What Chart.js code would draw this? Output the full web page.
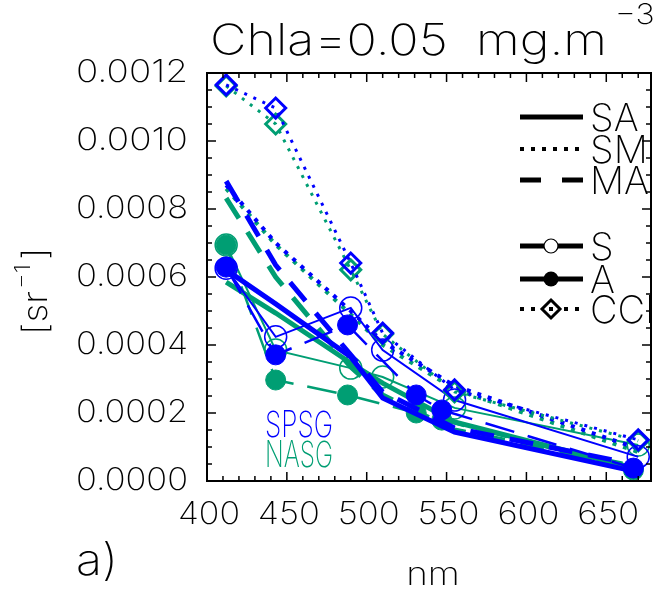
<!DOCTYPE html>
<html>
<head>
<meta charset="utf-8">
<script src="https://cdn.jsdelivr.net/npm/chart.js@4.4.1/dist/chart.umd.min.js"></script>
<style>
  html, body { margin: 0; padding: 0; background: #fff; }
  #wrap { width: 664px; height: 590px; }
</style>
</head>
<body>
<div id="wrap"><canvas id="rrsChart"></canvas></div>
<script>
// band centres (nm)
var bandsModel = [412, 443, 490, 510, 555, 670];
var bandsS     = [412, 443, 490, 510, 555, 670];
var bandsA     = [412, 443, 488, 531, 547, 667];
var bandsCCI   = [412, 443, 490, 510, 555, 670];

// SPSG (blue)
var spsgSA  = [0.000621, 0.000521, 0.000365, 0.000244, 0.000144, 0.000026];
var spsgSM  = [0.000870, 0.000700, 0.000500, 0.000410, 0.000280, 0.000095];
var spsgMA  = [0.000882, 0.000635, 0.000371, 0.000262, 0.000156, 0.000047];
var spsgS   = [0.000626, 0.000424, 0.000509, 0.000385, 0.000238, 0.000071];
var spsgA   = [0.000629, 0.000371, 0.000459, 0.000253, 0.000209, 0.000038];
var spsgCCI = [0.001165, 0.001097, 0.000641, 0.000435, 0.000268, 0.000121];

// NASG (green)
var nasgSA  = [0.000585, 0.000494, 0.000347, 0.000288, 0.000174, 0.000035];
var nasgSM  = [0.000860, 0.000695, 0.000490, 0.000400, 0.000270, 0.000085];
var nasgMA  = [0.000832, 0.000600, 0.000335, 0.000253, 0.000150, 0.000041];
var nasgS   = [0.000694, 0.000385, 0.000332, 0.000306, 0.000215, 0.000106];
var nasgA   = [0.000694, 0.000297, 0.000253, 0.000200, 0.000179, 0.000032];
var nasgCCI = [0.001162, 0.001050, 0.000621, 0.000432, 0.000262, 0.000118];

var yTicks = [0, 0.0002, 0.0004, 0.0006, 0.0008, 0.0010, 0.0012];
var xTicks = [400, 450, 500, 550, 600, 650];
var keyNames = ['SA', 'SM', 'MA', 'S', 'A', 'CCI'];

var BLUE = '#0000ff';
var GREEN = '#009e73';
var FONT = 'Inter, Lato, "DejaVu Sans", sans-serif';
var WEIGHT = '150';

function pts(xs, ys) {
    return xs.map(function (x, i) { return { x: x, y: ys[i] }; });
}

// line style per product
var styles = {
    SA:  { borderWidth: 5, borderDash: [], pointRadius: 0 },
    SM:  { borderWidth: 4, borderDash: [4, 7], pointRadius: 0 },
    MA:  { borderWidth: 5, borderDash: [24, 16], pointRadius: 0 },
    S:   { borderWidth: 2, borderDash: [], pointRadius: 11, pointStyle: 'circle', filled: false, pointBorderWidth: 1.5 },
    A:   { borderWidth: 2.5, borderDash: [30, 14], pointRadius: 10, pointStyle: 'circle', filled: true, pointBorderWidth: 1 },
    CCI: { borderWidth: 3, borderDash: [3, 7], pointRadius: 10, pointStyle: 'rectRot', filled: false, pointBorderWidth: 3 }
};

function makeSet(label, key, xs, ys, color) {
    var st = styles[key];
    return {
        label: label,
        data: pts(xs, ys),
        borderColor: color,
        backgroundColor: color,
        borderWidth: st.borderWidth,
        borderDash: st.borderDash,
        borderCapStyle: 'butt',
        tension: 0,
        pointRadius: st.pointRadius,
        pointStyle: st.pointStyle || 'circle',
        pointBorderColor: color,
        pointBackgroundColor: st.filled ? color : 'rgba(0,0,0,0)',
        pointBorderWidth: st.pointBorderWidth || 1
    };
}

var datasets = [
    makeSet('SPSG CCI', 'CCI', bandsCCI, spsgCCI, BLUE),
    makeSet('NASG CCI', 'CCI', bandsCCI, nasgCCI, GREEN),
    makeSet('SPSG A', 'A', bandsA, spsgA, BLUE),
    makeSet('SPSG S', 'S', bandsS, spsgS, BLUE),
    makeSet('SPSG SA', 'SA', bandsModel, spsgSA, BLUE),
    makeSet('SPSG MA', 'MA', bandsModel, spsgMA, BLUE),
    makeSet('SPSG SM', 'SM', bandsModel, spsgSM, BLUE),
    makeSet('NASG A', 'A', bandsA, nasgA, GREEN),
    makeSet('NASG S', 'S', bandsS, nasgS, GREEN),
    makeSet('NASG SA', 'SA', bandsModel, nasgSA, GREEN),
    makeSet('NASG MA', 'MA', bandsModel, nasgMA, GREEN),
    makeSet('NASG SM', 'SM', bandsModel, nasgSM, GREEN)
];

// text helper: optional stretch to a given width, returns drawn width
function drawText(ctx, s, x, y, size, o) {
    o = o || {};
    ctx.font = WEIGHT + ' ' + size + 'px ' + FONT;
    ctx.fillStyle = o.color || '#000';
    ctx.textAlign = 'left';
    ctx.textBaseline = o.baseline || 'alphabetic';
    var w = ctx.measureText(s).width;
    var sx = o.width ? o.width / w : (o.sx || 1);
    var dx = 0;
    if (o.align === 'center') dx = -w / 2;
    if (o.align === 'right') dx = -w;
    ctx.save();
    ctx.translate(x, y);
    ctx.scale(sx, 1);
    ctx.fillText(s, dx, 0);
    ctx.restore();
    return w * sx;
}

// box with inward ticks, tick labels, titles and the key
var decor = {
    id: 'decor',
    afterDraw: function (chart) {
        var ctx = chart.ctx, a = chart.chartArea;
        var xs = chart.scales.x, ys = chart.scales.y;
        ctx.save();
        ctx.strokeStyle = '#000';
        ctx.lineWidth = 2;
        ctx.strokeRect(a.left, a.top, a.right - a.left, a.bottom - a.top);

        ctx.lineWidth = 1.5;
        ctx.beginPath();
        for (var v = 400; v <= xs.max; v += 10) {
            var px = xs.getPixelForValue(v);
            var len = (v % 50 === 0) ? 9 : 5;
            ctx.moveTo(px, a.bottom); ctx.lineTo(px, a.bottom - len);
            ctx.moveTo(px, a.top); ctx.lineTo(px, a.top + len);
        }
        for (var k = 0; k <= 24; k++) {
            var py = ys.getPixelForValue(k * 0.00005);
            var l2 = (k % 4 === 0) ? 9 : 5;
            ctx.moveTo(a.left, py); ctx.lineTo(a.left + l2, py);
            ctx.moveTo(a.right, py); ctx.lineTo(a.right - l2, py);
        }
        ctx.stroke();

        // tick labels
        yTicks.forEach(function (t) {
            drawText(ctx, t.toFixed(4), 188, ys.getPixelForValue(t), 31, { align: 'right', baseline: 'middle', width: 112 });
        });
        xTicks.forEach(function (t) {
            drawText(ctx, String(t), xs.getPixelForValue(t) + 2, 515, 31, { align: 'center', baseline: 'middle', width: 62 });
        });

        // title
        var tw = drawText(ctx, 'Chla=0.05  mg.m', 210, 55, 43, { width: 397 });
        drawText(ctx, '\u22123', 210 + tw + 8, 24, 28, { sx: 1.15 });

        // axis titles
        drawText(ctx, 'nm', 433, 585, 32, { align: 'center', sx: 1.15 });
        drawText(ctx, 'a)', 76, 575, 44, { sx: 1.1 });
        ctx.save();
        ctx.translate(47, 335);
        ctx.rotate(-Math.PI / 2);
        var w1 = drawText(ctx, '[sr', 0, 0, 34, { sx: 1.1 });
        var w2 = drawText(ctx, '\u22121', w1 + 2, -17, 22, { sx: 1.1 });
        drawText(ctx, ']', w1 + w2 + 6, 0, 34, { sx: 1.1 });
        ctx.restore();

        // region labels
        drawText(ctx, 'SPSG', 265, 437, 36, { color: BLUE, width: 68 });
        drawText(ctx, 'NASG', 265, 467, 36, { color: GREEN, width: 68 });

        // key
        var keyX0 = 520, keyX1 = 583, keyMid = 551;
        ctx.strokeStyle = '#000';
        ctx.lineCap = 'butt';
        function keyLine(y, w, dash) {
            ctx.lineWidth = w;
            ctx.setLineDash(dash);
            ctx.beginPath(); ctx.moveTo(keyX0, y); ctx.lineTo(keyX1, y); ctx.stroke();
            ctx.setLineDash([]);
        }
        keyLine(117, 5, []);
        keyLine(149, 4, [4, 7]);
        keyLine(180, 5, [21, 21]);
        keyLine(246, 5, []);
        keyLine(279, 5, []);
        keyLine(309, 4, [4, 7]);
        // open circle
        ctx.fillStyle = '#fff';
        ctx.lineWidth = 1.2;
        ctx.beginPath(); ctx.arc(keyMid, 246, 7, 0, Math.PI * 2); ctx.fill(); ctx.stroke();
        // filled circle
        ctx.fillStyle = '#000';
        ctx.beginPath(); ctx.arc(keyMid, 279, 7.5, 0, Math.PI * 2); ctx.fill();
        // diamond
        ctx.fillStyle = '#fff';
        ctx.lineWidth = 3;
        ctx.beginPath();
        ctx.moveTo(keyMid, 300); ctx.lineTo(keyMid + 9, 309); ctx.lineTo(keyMid, 318); ctx.lineTo(keyMid - 9, 309); ctx.closePath();
        ctx.fill(); ctx.stroke();
        ctx.fillStyle = '#000';
        ctx.fillRect(keyMid - 2, 307, 4, 4);

        var keyY = [131, 163, 194, 260, 293, 323];
        keyNames.forEach(function (n, i) { drawText(ctx, n, 590, keyY[i], 38, { sx: 1.0 }); });
        ctx.restore();
    }
};

new Chart(document.getElementById('rrsChart').getContext('2d'), {
    type: 'line',
    data: { datasets: datasets },
    options: {
        responsive: true,
        maintainAspectRatio: false,
        animation: false,
        layout: { padding: { top: 73, right: 5, left: 0, bottom: 0 } },
        plugins: { legend: { display: false }, tooltip: { enabled: false } },
        scales: {
            x: {
                type: 'linear',
                min: 400,
                max: 678,
                afterFit: function (s) { s.height = 109; },
                grid: { display: false, drawTicks: false },
                border: { display: false },
                ticks: { display: false }
            },
            y: {
                min: 0,
                max: 0.0012,
                afterFit: function (s) { s.width = 207; },
                grid: { display: false, drawTicks: false },
                border: { display: false },
                ticks: { display: false }
            }
        }
    },
    plugins: [decor]
});
</script>
</body>
</html>
